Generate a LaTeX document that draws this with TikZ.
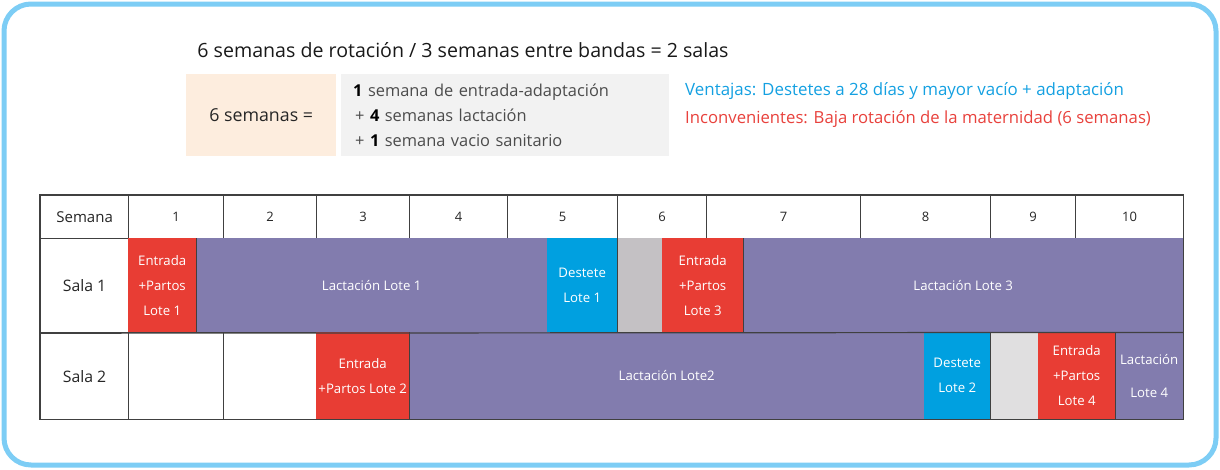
\documentclass[tikz,border=0pt]{standalone}
\usepackage{fontspec}
\setmainfont{Open Sans}
\usetikzlibrary{positioning}
\definecolor{frameblue}{RGB}{125,205,245}
\definecolor{peach}{RGB}{253,237,222}
\definecolor{lightbox}{RGB}{242,242,242}
\definecolor{partored}{RGB}{232,61,52}
\definecolor{lactpurple}{RGB}{130,124,174}
\definecolor{destblue}{RGB}{0,160,224}
\definecolor{vaciogray}{RGB}{196,193,196}
\definecolor{vaciolight}{RGB}{224,223,224}
\definecolor{gridc}{RGB}{64,64,64}
\definecolor{prosblue}{RGB}{20,160,225}
\definecolor{consred}{RGB}{232,65,60}
\tikzset{
  hd/.style = {
    draw=gridc, line width=1.2pt, fill=white, anchor=north west,
    inner sep=0pt, minimum height=43pt, text=black!85,
    font=\fontsize{13}{15}\selectfont
  },
  lbl/.style = {
    hd, minimum width=88pt, font=\fontsize{15.8}{18}\selectfont
  },
  blk/.style = {
    anchor=north west, inner sep=0pt, text=white, align=center,
    font=\fontsize{13.2}{25}\selectfont
  },
  entrada/.style = {blk, fill=partored},
  lact/.style = {blk, fill=lactpurple},
  destete/.style = {blk, fill=destblue},
  grid/.style = {draw=gridc, line width=1.2pt}
}
\begin{document}
\begin{tikzpicture}[x=1pt, y=-1pt]
  \useasboundingbox (0,0) rectangle (1220,469);
  \draw [frameblue, line width=5pt, rounded corners=27pt] (4,4) rectangle (1216,465);
  % cabecera
  \path
    (463,50) node [font=\fontsize{19.6}{23}\selectfont, text=black!90] (title)
      {6 semanas de rotación / 3 semanas entre bandas = 2 salas}
    (186,74) node [anchor=north west, fill=peach, minimum width=150pt,
      minimum height=82pt, inner sep=0pt, text=black!85,
      font=\fontsize{17.8}{20}\selectfont] (seis) {6 semanas =}
    (341,74) node [anchor=north west, fill=lightbox, minimum width=328pt,
      minimum height=82pt, inner xsep=12pt, inner ysep=0pt, text width=304pt,
      align=left, text=black!70, font=\fontsize{16.4}{25}\selectfont] (desglose)
      {\textcolor{black}{\textbf{1}} semana de entrada-adaptación\\
       \hspace*{2pt}+ \textcolor{black}{\textbf{4}} semanas lactación\\
       \hspace*{2pt}+ \textcolor{black}{\textbf{1}} semana vacio sanitario}
    (685,91) node [anchor=west, inner xsep=0pt, text=prosblue,
      font=\fontsize{16.9}{20}\selectfont] (ventajas)
      {Ventajas: Destetes a 28 días y mayor vacío + adaptación}
    (685,119) node [anchor=west, inner xsep=0pt, text=consred,
      font=\fontsize{16.7}{20}\selectfont] (inconv)
      {Inconvenientes: Baja rotación de la maternidad (6 semanas)};
  % semanas
  \path
    (40,195) node [hd, minimum width=88pt, font=\fontsize{15}{17}\selectfont] (sem) {Semana}
    (128,195) node [hd, minimum width=95pt] (w1) {1}
    (223,195) node [hd, minimum width=93pt] (w2) {2}
    (316,195) node [hd, minimum width=93pt] (w3) {3}
    (409,195) node [hd, minimum width=98pt] (w4) {4}
    (507,195) node [hd, minimum width=110pt] (w5) {5}
    (617,195) node [hd, minimum width=89pt] (w6) {6}
    (706,195) node [hd, minimum width=154pt] (w7) {7}
    (860,195) node [hd, minimum width=130pt] (w8) {8}
    (990,195) node [hd, minimum width=85pt] (w9) {9}
    (1075,195) node [hd, minimum width=108pt] (w10) {10};
  % sala 1
  \path
    (40,238) node [lbl, minimum height=94pt] (sala1) {Sala 1}
    (128,238) node [entrada, minimum width=68pt, minimum height=94pt] (ent1)
      {Entrada\\+Partos\\Lote 1}
    (196,238) node [lact, minimum width=351pt, minimum height=94pt] (lac1)
      {Lactación Lote 1}
    (547,238) node [destete, minimum width=70pt, minimum height=94pt] (des1)
      {Destete\\Lote 1}
    (617,238) node [blk, fill=vaciogray, minimum width=45pt, minimum height=94pt] (vac1) {}
    (662,238) node [entrada, minimum width=81pt, minimum height=94pt] (ent3)
      {Entrada\\+Partos\\Lote 3}
    (743,238) node [lact, minimum width=440pt, minimum height=94pt] (lac3)
      {Lactación Lote 3};
  % sala 2
  \path
    (40,332) node [lbl, minimum height=87pt] (sala2) {Sala 2}
    (128,332) node [hd, minimum width=95pt, minimum height=87pt] (libre1) {}
    (223,332) node [hd, minimum width=93pt, minimum height=87pt] (libre2) {}
    (316,332) node [entrada, minimum width=93pt, minimum height=87pt] (ent2)
      {Entrada\\+Partos Lote 2}
    (409,332) node [lact, minimum width=515pt, minimum height=87pt] (lac2)
      {Lactación Lote2}
    (924,332) node [destete, minimum width=66pt, minimum height=87pt] (des2)
      {Destete\\Lote 2}
    (990,332) node [blk, fill=vaciolight, minimum width=48pt, minimum height=87pt] (vac2) {}
    (1038,332) node [entrada, minimum width=77pt, minimum height=87pt] (ent4)
      {Entrada\\+Partos\\Lote 4}
    (1115,332) node [lact, minimum width=68pt, minimum height=87pt,
      font=\fontsize{13.2}{33}\selectfont] (lac4) {Lactación\\Lote 4};
  % lineas
  \draw [grid] (sem.north west) rectangle (lac4.south east);
  \draw [grid] (sala1.south west) -- (lac3.south east);
  \draw [grid] (ent1.north east) -- (ent1.south east);
  \draw [grid] (des1.north east) -- (des1.south east);
  \draw [grid] (ent3.north east) -- (ent3.south east);
  \draw [grid] (ent2.north east) -- (ent2.south east);
  \draw [grid] (des2.north east) -- (des2.south east);
  \draw [grid] (ent4.north east) -- (ent4.south east);
\end{tikzpicture}
\end{document}
